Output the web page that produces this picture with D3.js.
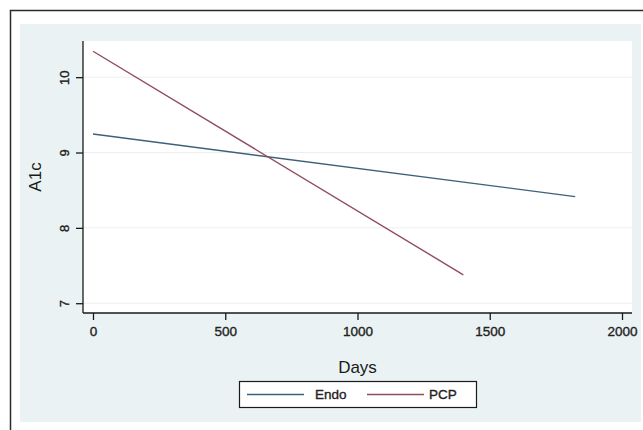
<!DOCTYPE html>
<html>
<head>
<meta charset="utf-8">
<script src="https://cdn.jsdelivr.net/npm/d3@7"></script>
<style>
  html, body { margin: 0; padding: 0; background: #fff; }
  svg { display: block; font-family: 'Liberation Sans', Arial, sans-serif; }
</style>
</head>
<body>
<svg id="chart" width="643" height="430"></svg>
<script>
// values
const seriesNames = ['Endo', 'PCP'];
const endoDays = [0, 1823];
const endoA1c = [9.245, 8.415];
const pcpDays = [0, 1400];
const pcpA1c = [10.344, 7.377];
const xTicks = [0, 500, 1000, 1500, 2000];
const yTicks = [7, 8, 9, 10];

const plot = {left: 83, right: 632, top: 41, bottom: 313};
const colors = ['#3c6178', '#8e4c5c'];

const svg = d3.select('#chart');

// outer frame (cropped at right and bottom)
svg.append('rect')
    .attr('x', 10.5)
    .attr('y', 10.5)
    .attr('width', 800)
    .attr('height', 600)
    .attr('fill', '#fff')
    .attr('stroke', '#2a2a2a')
    .attr('stroke-width', 1.5);

// graph region
svg.append('rect')
    .attr('x', 20)
    .attr('y', 24)
    .attr('width', 621)
    .attr('height', 398)
    .attr('fill', '#eaf2f3');

svg.append('rect')
    .attr('x', plot.left)
    .attr('y', plot.top)
    .attr('width', plot.right - plot.left)
    .attr('height', plot.bottom - plot.top)
    .attr('fill', '#fff');

const x = d3.scaleLinear()
    .domain([-37.8, 2037.8])
    .range([plot.left, plot.right]);

const y = d3.scaleLinear()
    .domain([6.87, 10.48])
    .range([plot.bottom, plot.top]);

// grid
svg.append('g')
    .selectAll('line')
    .data(yTicks)
    .enter()
    .append('line')
    .attr('x1', plot.left)
    .attr('x2', plot.right)
    .attr('y1', (d) => y(d))
    .attr('y2', (d) => y(d))
    .attr('stroke', '#eaf0f1')
    .attr('stroke-width', 1);

// axes
const xAxis = svg.append('g')
    .attr('transform', 'translate(0,' + plot.bottom + ')')
    .call(d3.axisBottom(x).tickValues(xTicks).tickFormat(d3.format('d'))
        .tickSize(7).tickPadding(6).tickSizeOuter(0));

xAxis.select('.domain')
    .attr('d', 'M' + plot.left + ',0H' + plot.right);

xAxis.selectAll('text')
    .attr('font-size', 13.5)
    .attr('fill', '#222')
    .attr('stroke', '#222')
    .attr('stroke-width', 0.35);

const yAxis = svg.append('g')
    .attr('transform', 'translate(' + plot.left + ',0)')
    .call(d3.axisLeft(y).tickValues(yTicks).tickFormat(d3.format('d'))
        .tickSize(7).tickSizeOuter(0));

yAxis.select('.domain')
    .attr('d', 'M0,' + plot.bottom + 'V' + plot.top);

yAxis.selectAll('text')
    .attr('font-size', 13)
    .attr('fill', '#222')
    .attr('stroke', '#222')
    .attr('stroke-width', 0.35)
    .attr('text-anchor', 'middle')
    .attr('x', 0)
    .attr('dy', 0)
    .attr('transform', 'translate(-14,0) rotate(-90)');

svg.selectAll('.domain, .tick line')
    .attr('stroke', '#1a1a1a')
    .attr('stroke-width', 1.3);

// titles
svg.append('text')
    .attr('x', (plot.left + plot.right) / 2)
    .attr('y', 373)
    .attr('text-anchor', 'middle')
    .attr('font-size', 17)
    .attr('fill', '#1a1a1a')
    .text('Days');

svg.append('text')
    .attr('transform', 'translate(41,' + ((plot.top + plot.bottom) / 2) + ') rotate(-90)')
    .attr('text-anchor', 'middle')
    .attr('font-size', 17)
    .attr('fill', '#1a1a1a')
    .text('A1c');

// lines
const series = [
  {name: seriesNames[0], days: endoDays, a1c: endoA1c},
  {name: seriesNames[1], days: pcpDays, a1c: pcpA1c},
];

const line = d3.line()
    .x((d) => x(d[0]))
    .y((d) => y(d[1]));

svg.append('g')
    .selectAll('path')
    .data(series)
    .enter()
    .append('path')
    .attr('d', (s) => line(s.days.map((d, i) => [d, s.a1c[i]])))
    .attr('fill', 'none')
    .attr('stroke', (s, i) => colors[i])
    .attr('stroke-width', 1.4);

// legend
const legend = svg.append('g');

legend.append('rect')
    .attr('x', 239.5)
    .attr('y', 381.5)
    .attr('width', 237)
    .attr('height', 26)
    .attr('fill', '#fff')
    .attr('stroke', '#1a1a1a')
    .attr('stroke-width', 1.2);

const items = legend.selectAll('.item')
    .data(series)
    .enter()
    .append('g')
    .attr('class', 'item')
    .attr('transform', (d, i) => 'translate(' + (247 + i * 120) + ',394.5)');

items.append('line')
    .attr('x1', 0)
    .attr('x2', 57)
    .attr('stroke', (d, i) => colors[i])
    .attr('stroke-width', 1.4);

items.append('text')
    .attr('x', (d, i) => i === 0 ? 68 : 62)
    .attr('dy', '0.36em')
    .attr('font-size', 13.5)
    .attr('fill', '#222')
    .attr('stroke', '#222')
    .attr('stroke-width', 0.35)
    .text((d) => d.name);
</script>
</body>
</html>
